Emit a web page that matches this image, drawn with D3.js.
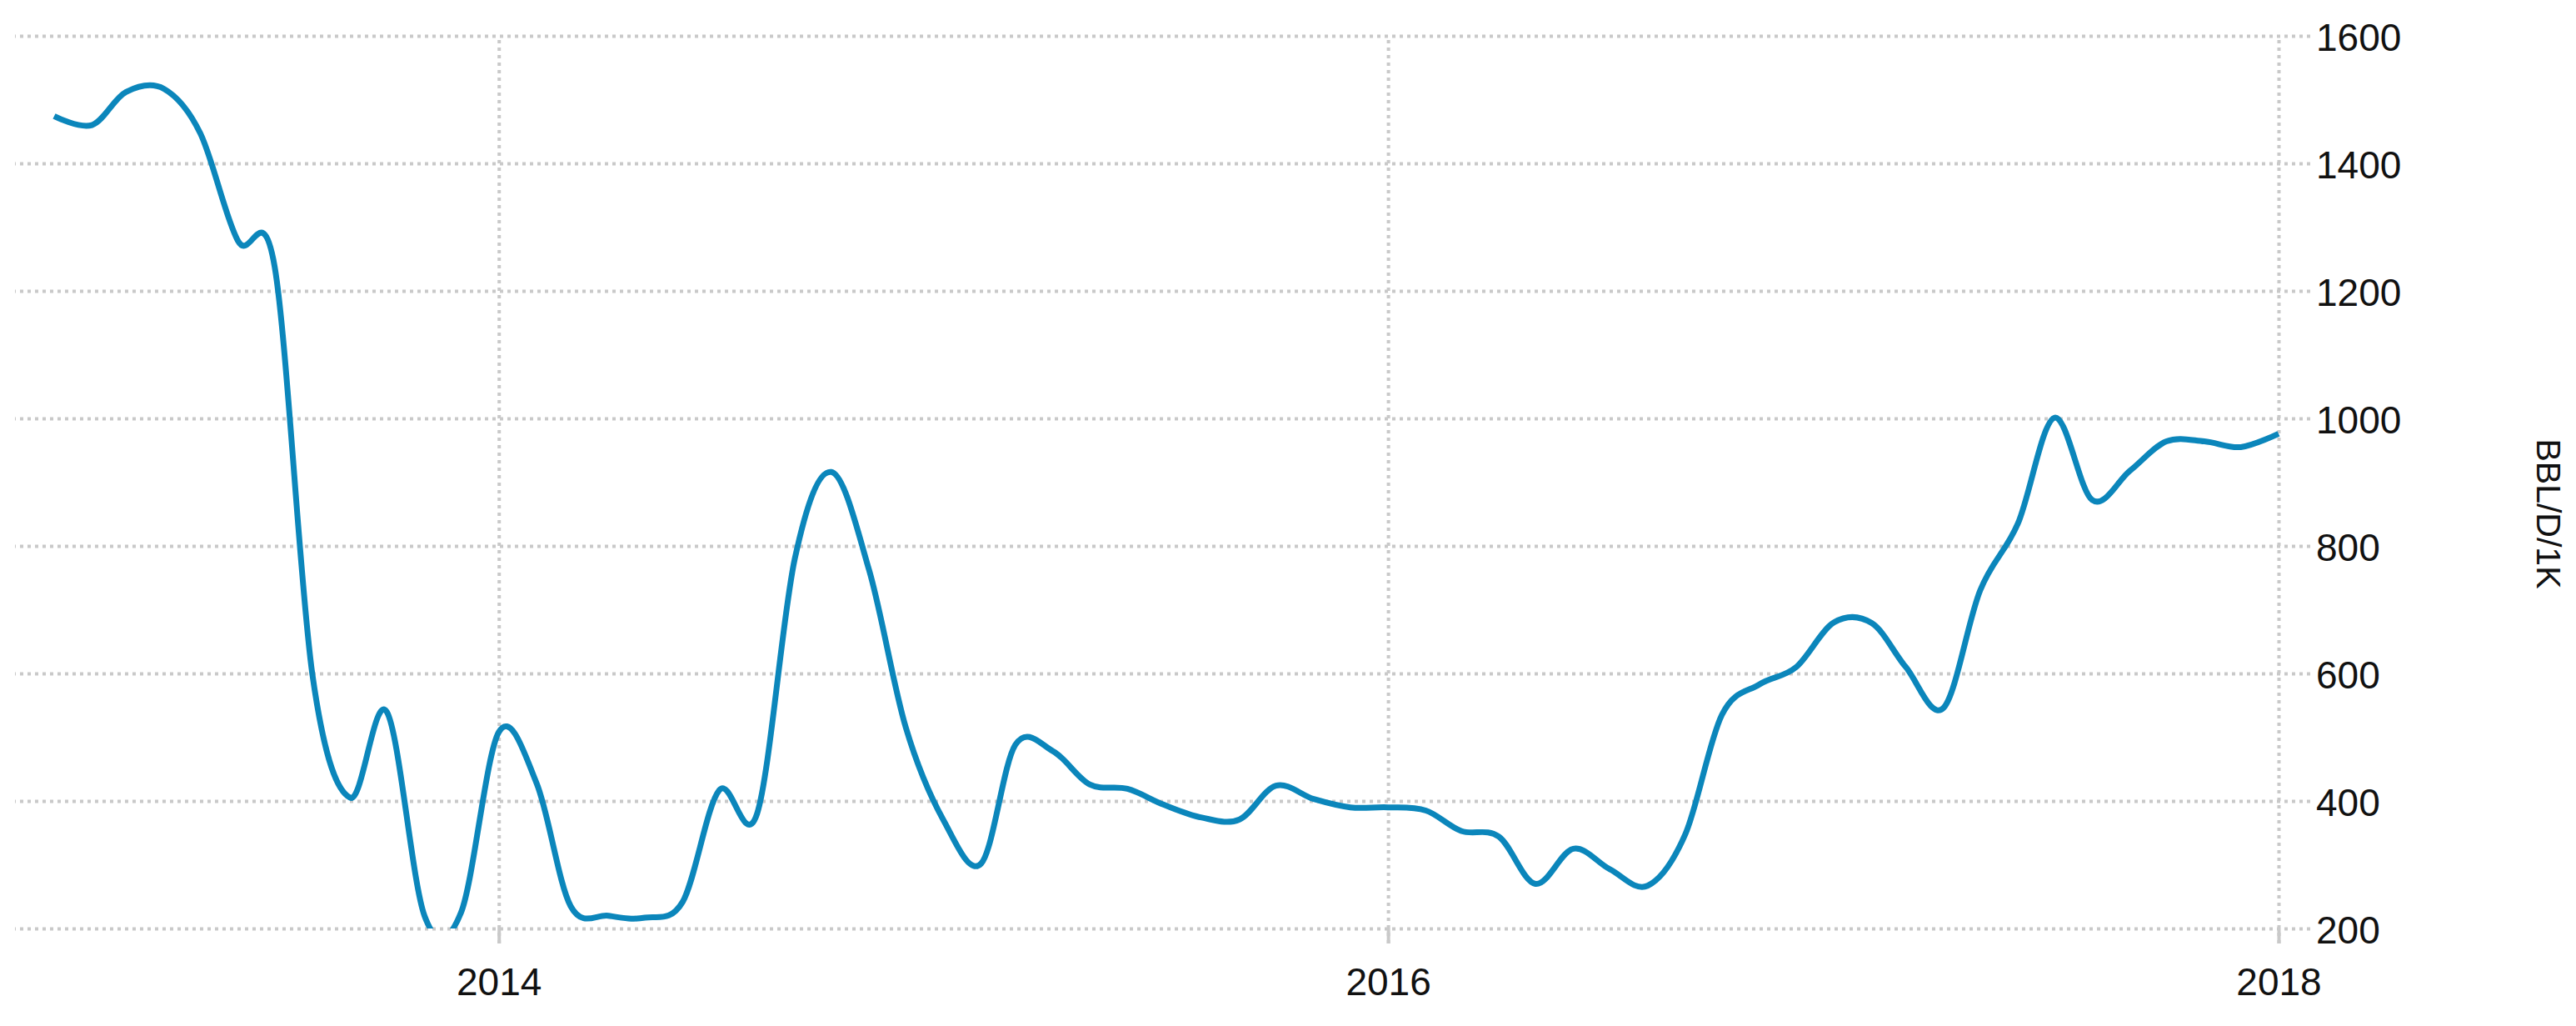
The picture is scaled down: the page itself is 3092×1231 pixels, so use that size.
<!DOCTYPE html>
<html lang="en">
<head>
    <meta charset="UTF-8">
    <title>BBL/D/1K</title>
    <script src="https://d3js.org/d3.v7.min.js"></script>
    <style>
        body {
            margin: 0;
            background: #fff;
            font-family: "Liberation Sans", Arial, sans-serif;
        }
        .grid line {
            stroke: #c9c9c9;
            stroke-width: 4;
            stroke-dasharray: 4,5;
        }
        .ticks line {
            stroke: #c9c9c9;
            stroke-width: 4;
        }
        .tick text {
            fill: #111;
            font-size: 46px;
            font-family: "Liberation Sans", Arial, sans-serif;
        }
    </style>
</head>
<body>
    <div id="chart"></div>

    <script>
        // monthly values, Jan 2013 .. Jan 2018
        const months = [
            "2013-01", "2013-02", "2013-03", "2013-04", "2013-05", "2013-06", "2013-07", "2013-08", "2013-09", "2013-10", "2013-11", "2013-12",
            "2014-01", "2014-02", "2014-03", "2014-04", "2014-05", "2014-06", "2014-07", "2014-08", "2014-09", "2014-10", "2014-11", "2014-12",
            "2015-01", "2015-02", "2015-03", "2015-04", "2015-05", "2015-06", "2015-07", "2015-08", "2015-09", "2015-10", "2015-11", "2015-12",
            "2016-01", "2016-02", "2016-03", "2016-04", "2016-05", "2016-06", "2016-07", "2016-08", "2016-09", "2016-10", "2016-11", "2016-12",
            "2017-01", "2017-02", "2017-03", "2017-04", "2017-05", "2017-06", "2017-07", "2017-08", "2017-09", "2017-10", "2017-11", "2017-12",
            "2018-01"
        ];
        const values = [
            1474, 1460, 1512, 1517, 1447, 1278, 1238, 598, 405, 540, 220, 225,
            508, 428, 235, 220, 217, 242, 417, 380, 780, 916, 762, 516,
            370, 302, 488, 478, 426, 419, 394, 374, 371, 424, 403, 390,
            390, 385, 353, 344, 270, 325, 293, 267, 348, 535, 583, 610,
            680, 679, 610, 546, 730, 835, 1001, 872, 918, 964, 964, 955,
            976
        ];
        const yTicks = [200, 400, 600, 800, 1000, 1200, 1400, 1600];
        const xTicks = ["2014-01", "2016-01", "2018-01"];
        const unitLabel = "BBL/D/1K";

        const width = 3092;
        const height = 1231;
        const plot = { left: 18, right: 2735, top: 43, bottom: 1114 };

        const parse = d3.timeParse("%Y-%m");
        const data = months.map((m, i) => ({ date: parse(m), value: values[i] }));

        const svg = d3.select("#chart")
            .append("svg")
            .attr("width", width)
            .attr("height", height);

        const x = d3.scaleTime()
            .domain([parse("2013-01"), parse("2018-01")])
            .range([65, plot.right]);

        const y = d3.scaleLinear()
            .domain([200, 1600])
            .range([plot.bottom, plot.top]);

        // horizontal grid + right labels
        const yAxis = svg.append("g")
            .attr("class", "grid")
            .attr("transform", `translate(${plot.right + 38},0)`)
            .call(d3.axisRight(y)
                .tickValues(yTicks)
                .tickSize(-(plot.right + 38 - plot.left))
                .tickSizeOuter(0)
                .tickPadding(7)
                .tickFormat(d3.format("d")));
        yAxis.select(".domain").remove();
        yAxis.selectAll("text").attr("dy", "0.38em");

        // vertical grid + bottom labels
        const xAxis = svg.append("g")
            .attr("class", "grid")
            .attr("transform", `translate(0,${plot.bottom + 18})`)
            .call(d3.axisBottom(x)
                .tickValues(xTicks.map(parse))
                .tickSize(-(plot.bottom + 18 - 47))
                .tickSizeOuter(0)
                .tickPadding(29)
                .tickFormat(d3.timeFormat("%Y")));
        xAxis.select(".domain").remove();

        // solid tick stubs under the plot
        const stubs = svg.append("g")
            .attr("class", "ticks")
            .attr("transform", `translate(0,${plot.bottom})`)
            .call(d3.axisBottom(x)
                .tickValues(xTicks.map(parse))
                .tickSize(18)
                .tickSizeOuter(0)
                .tickFormat(""));
        stubs.select(".domain").remove();

        svg.append("clipPath")
            .attr("id", "clip")
            .append("rect")
            .attr("x", plot.left)
            .attr("y", plot.top - 10)
            .attr("width", plot.right - plot.left + 10)
            .attr("height", plot.bottom - plot.top + 10);

        const line = d3.line()
            .x(d => x(d.date))
            .y(d => y(d.value))
            .curve(d3.curveCardinal.tension(0));

        svg.append("path")
            .datum(data)
            .attr("clip-path", "url(#clip)")
            .attr("fill", "none")
            .attr("stroke", "#0b86bb")
            .attr("stroke-width", 7)
            .attr("stroke-linejoin", "round")
            .attr("d", line);

        // unit label
        svg.append("text")
            .attr("transform", `translate(3060,${(plot.top + plot.bottom) / 2 + 38}) rotate(90)`)
            .attr("text-anchor", "middle")
            .attr("dy", "0.36em")
            .attr("fill", "#111")
            .style("font-size", "41px")
            .text(unitLabel);
    </script>
</body>
</html>
